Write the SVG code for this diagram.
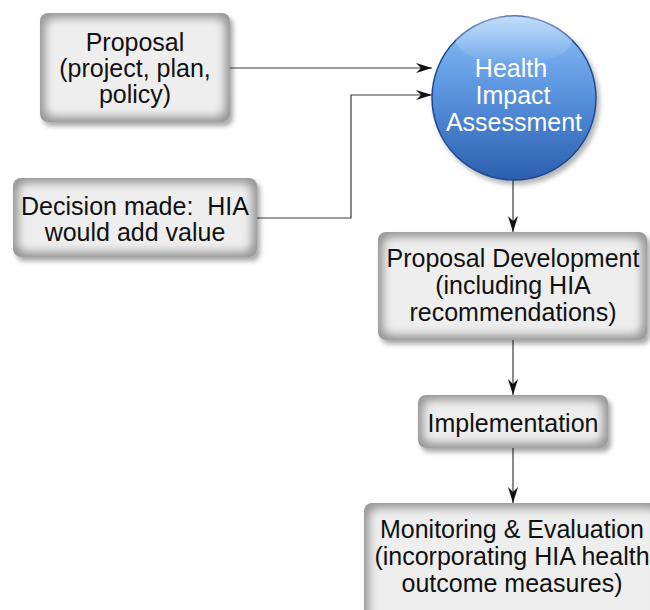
<svg xmlns="http://www.w3.org/2000/svg" width="650" height="610" viewBox="0 0 650 610">
  <style>
    .box { fill: #999999; filter: url(#bevel); }
    .t { font-family: "Liberation Sans", Arial, sans-serif; font-size: 25px; fill: #111; text-anchor: middle; }
    .tw { font-family: "Liberation Sans", Arial, sans-serif; font-size: 25px; fill: #ffffff; text-anchor: middle; }
    .conn { fill: none; stroke: #3a3a3a; stroke-width: 1.2; marker-end: url(#arr); }
  </style>
  <defs>
    <filter id="bevel" x="-10%" y="-15%" width="125%" height="140%">
      <feGaussianBlur in="SourceAlpha" stdDeviation="2.5" result="sb"/>
      <feOffset in="sb" dx="3" dy="4" result="so"/>
      <feFlood flood-color="#000" flood-opacity="0.35"/>
      <feComposite in2="so" operator="in" result="shadow"/>
      <feMorphology in="SourceAlpha" operator="erode" radius="6" result="er"/>
      <feGaussianBlur in="er" stdDeviation="4.5" result="bl"/>
      <feFlood flood-color="#eeeeee" result="fl"/>
      <feComposite in="fl" in2="bl" operator="in" result="light0"/>
      <feComposite in="light0" in2="SourceAlpha" operator="in" result="light"/>
      <feMerge>
        <feMergeNode in="shadow"/>
        <feMergeNode in="SourceGraphic"/>
        <feMergeNode in="light"/>
      </feMerge>
    </filter>
    <linearGradient id="blue" x1="0" y1="0" x2="0" y2="1">
      <stop offset="0" stop-color="#8fc2f7"/>
      <stop offset="0.45" stop-color="#5b95e0"/>
      <stop offset="1" stop-color="#2c5fae"/>
    </linearGradient>
    <linearGradient id="hl" x1="0" y1="0" x2="0" y2="1">
      <stop offset="0" stop-color="#ffffff" stop-opacity="0.45"/>
      <stop offset="1" stop-color="#ffffff" stop-opacity="0"/>
    </linearGradient>
    <filter id="cshadow" x="-20%" y="-20%" width="150%" height="150%">
      <feGaussianBlur in="SourceAlpha" stdDeviation="2.5"/>
      <feOffset dx="3" dy="4" result="o"/>
      <feFlood flood-color="#000" flood-opacity="0.3"/>
      <feComposite in2="o" operator="in"/>
      <feMerge><feMergeNode/><feMergeNode in="SourceGraphic"/></feMerge>
    </filter>
    <marker id="arr" viewBox="0 0 16 10" refX="16" refY="5" markerWidth="16" markerHeight="10" markerUnits="userSpaceOnUse" orient="auto">
      <path d="M0,0 L16,5 L0,10 L5,5 Z" fill="#111"/>
    </marker>
  </defs>

  <g id="connectors">
    <path class="conn" d="M230,68 L432,68"/>
    <path class="conn" d="M257,218 L351,218 L351,95 L432,95"/>
    <path class="conn" d="M513,180 L513,232"/>
    <path class="conn" d="M513,340 L513,395"/>
    <path class="conn" d="M513,448 L513,503"/>
  </g>

  <g id="proposal">
    <rect class="box" x="40" y="13" width="190" height="109" rx="8"/>
    <text class="t" x="135" y="51">Proposal</text>
    <text class="t" x="135" y="77">(project, plan,</text>
    <text class="t" x="135" y="103">policy)</text>
  </g>

  <g id="decision">
    <rect class="box" x="13" y="178" width="244" height="79" rx="8"/>
    <text class="t" x="135" y="215" xml:space="preserve">Decision made:  HIA</text>
    <text class="t" x="135" y="241">would add value</text>
  </g>

  <g id="hia">
    <circle cx="514" cy="98" r="82" fill="url(#blue)" stroke="#1d4a90" stroke-width="1.5" filter="url(#cshadow)"/>
    <ellipse cx="514" cy="40" rx="58" ry="24" fill="url(#hl)"/>
    <text class="tw" x="511" y="77">Health</text>
    <text class="tw" x="513" y="104">Impact</text>
    <text class="tw" x="514" y="131">Assessment</text>
  </g>

  <g id="proposal-development">
    <rect class="box" x="378" y="232" width="269" height="108" rx="8"/>
    <text class="t" x="513" y="267">Proposal Development</text>
    <text class="t" x="513" y="294">(including HIA</text>
    <text class="t" x="513" y="321">recommendations)</text>
  </g>

  <g id="implementation">
    <rect class="box" x="418" y="395" width="190" height="53" rx="8"/>
    <text class="t" x="513" y="432">Implementation</text>
  </g>

  <g id="monitoring">
    <rect class="box" x="364" y="503" width="300" height="125" rx="8"/>
    <text class="t" x="512" y="538">Monitoring &amp; Evaluation</text>
    <text class="t" x="512" y="565">(incorporating HIA health</text>
    <text class="t" x="512" y="592">outcome measures)</text>
  </g>
</svg>
